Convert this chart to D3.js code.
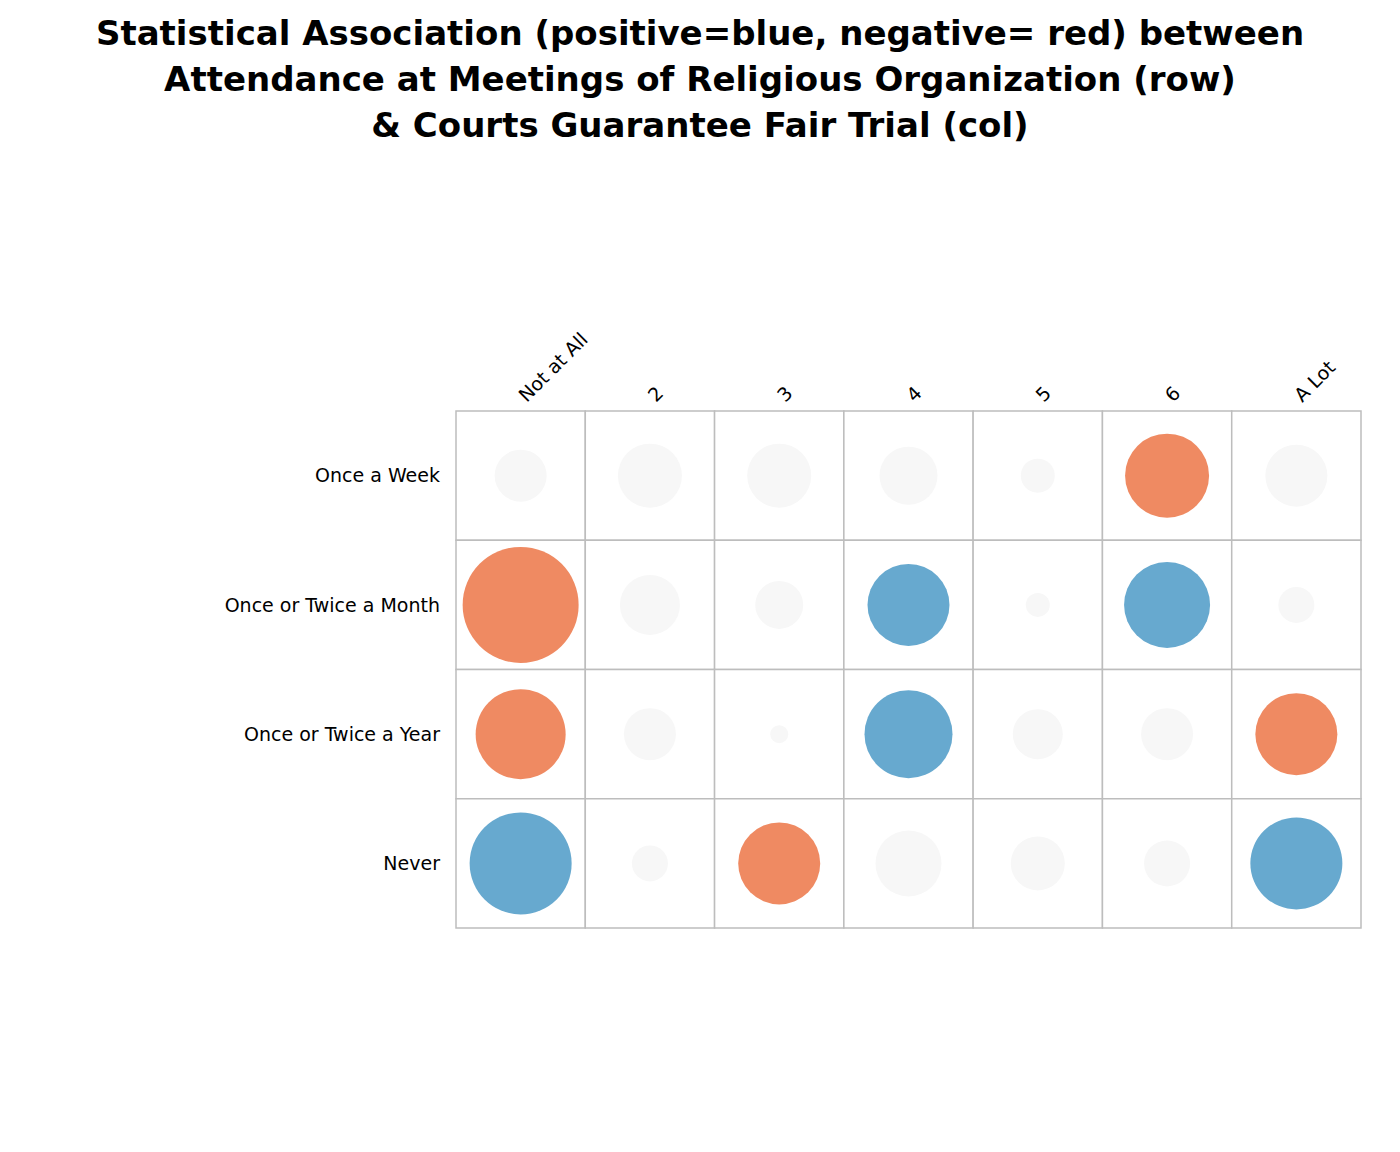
<!DOCTYPE html>
<html>
<head>
<meta charset="utf-8">
<script src="https://cdn.jsdelivr.net/npm/d3@7"></script>
<style>
  body { margin: 0; background: #fff; }
  text { font-family: "DejaVu Sans", sans-serif; }
</style>
</head>
<body>
<svg id="mainSvg" width="1400" height="1152"></svg>
<script>
// Rows, columns and signed association (sign: + blue, - red; magnitude: circle size)
let rows = ["Once a Week", "Once or Twice a Month", "Once or Twice a Year", "Never"];
let cols = ["Not at All", "2", "3", "4", "5", "6", "A Lot"];
let values = [
    [0.26, 0.32, 0.32, 0.29, 0.17, -0.42, 0.31],
    [-0.58, 0.30, 0.24, 0.41, 0.12, 0.43, 0.18],
    [-0.45, 0.26, 0.09, 0.44, 0.25, 0.26, -0.41],
    [0.51, 0.18, -0.41, 0.33, 0.27, 0.23, 0.46],
];
// cells with strong associations get colour, the rest are neutral
let significant = [
    [false, false, false, false, false, true, false],
    [true, false, false, true, false, true, false],
    [true, false, false, true, false, false, true],
    [true, false, true, false, false, false, true],
];
let titleLines = [
    "Statistical Association (positive=blue, negative= red) between",
    "Attendance at Meetings of Religious Organization (row)",
    "& Courts Guarantee Fair Trial (col)",
];

let svg = d3.select("#mainSvg");

let x = d3.scaleBand().domain(cols).range([456, 1361]);
let y = d3.scaleBand().domain(rows).range([411, 928]);
let r = d3.scaleLinear().domain([0, 0.58]).range([0, 58]);

let cells = [];
rows.forEach((row, i) => {
    cols.forEach((col, j) => {
        cells.push({ row: row, col: col, v: values[i][j], sig: significant[i][j] });
    });
});

let g = svg.append("g");

g.selectAll("rect")
    .data(cells)
    .join("rect")
    .attr("x", (d) => x(d.col))
    .attr("y", (d) => y(d.row))
    .attr("width", x.bandwidth())
    .attr("height", y.bandwidth())
    .attr("fill", "white")
    .attr("stroke", "#bdbdbd")
    .attr("stroke-width", 1.5);

g.selectAll("circle")
    .data(cells)
    .join("circle")
    .attr("cx", (d) => x(d.col) + x.bandwidth() / 2)
    .attr("cy", (d) => y(d.row) + y.bandwidth() / 2)
    .attr("r", (d) => r(Math.abs(d.v)))
    .attr("fill", (d) => (!d.sig ? "#f7f7f7" : d.v > 0 ? "#67a9cf" : "#ef8a62"));

// row labels
g.selectAll("text.row")
    .data(rows)
    .join("text")
    .attr("class", "row")
    .attr("x", 440)
    .attr("y", (d) => y(d) + y.bandwidth() / 2)
    .attr("dy", "0.35em")
    .attr("text-anchor", "end")
    .attr("font-size", 19)
    .text((d) => d);

// column labels
g.selectAll("text.col")
    .data(cols)
    .join("text")
    .attr("class", "col")
    .attr("transform", (d) => `translate(${x(d) + x.bandwidth() / 2 + 6},${403}) rotate(-45)`)
    .attr("text-anchor", "start")
    .attr("font-size", 19)
    .text((d) => d);

// title
svg.append("g")
    .selectAll("text")
    .data(titleLines)
    .join("text")
    .attr("x", 700)
    .attr("y", (d, i) => 45 + i * 46)
    .attr("text-anchor", "middle")
    .attr("font-size", 34)
    .attr("font-weight", "bold")
    .text((d) => d);
</script>
</body>
</html>
